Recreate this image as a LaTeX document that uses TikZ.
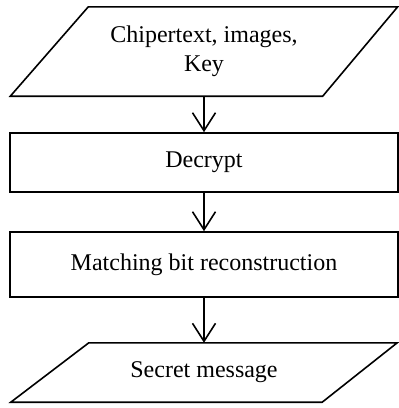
\documentclass[tikz,border=0pt]{standalone}
\usepackage{fontspec}
\setmainfont{Liberation Serif}
\usetikzlibrary{arrows.meta}
\begin{document}
\begin{tikzpicture}[x=1bp,y=-1bp,
  lw/.style={line width=1.6bp},
  txt/.style={inner sep=0pt, align=center, font=\fontsize{24bp}{29bp}\selectfont},
  box/.style={txt, draw, lw, rectangle, minimum width=388bp},
  io/.style={txt, rectangle, draw=none},
  ioshape/.style={lw, line join=miter},
  flow/.style={lw, -{Straight Barb[length=18bp,width=23bp]}}]
\useasboundingbox (0,0) rectangle (399,408);
% input
\node[io, minimum width=387bp, minimum height=89bp] (in) at (204,51.5) {Chipertext, images,\\Key};
\draw[ioshape] ([xshift=78bp]in.north west) -- (in.north east) -- ([xshift=-75bp]in.south east) -- (in.south west) -- cycle;
% decrypt
\node[box, minimum height=59bp] (dec) at (204,162.5) {Decrypt};
% matching
\node[box, minimum height=65bp] (match) at (204,264.5) {Matching bit reconstruction};
% output
\node[io, minimum width=386bp, minimum height=59bp] (out) at (204,372.5) {Secret message};
\draw[ioshape] ([xshift=78bp]out.north west) -- (out.north east) -- ([xshift=-75bp]out.south east) -- (out.south west) -- cycle;
% arrows
\draw[flow] (in.south) -- (dec.north);
\draw[flow] (dec.south) -- (match.north);
\draw[flow] (match.south) -- (out.north);
\end{tikzpicture}
\end{document}
